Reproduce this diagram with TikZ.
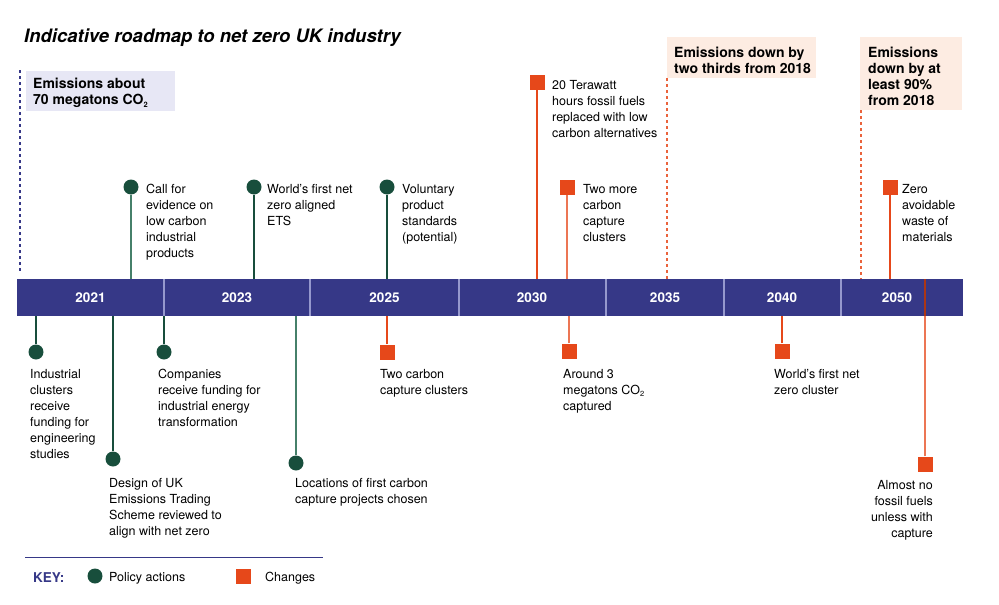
\documentclass[tikz,border=0pt]{standalone}
\usepackage{fontspec}
\setmainfont{TeX Gyre Heros}
\usetikzlibrary{calc}
\definecolor{barblue}{RGB}{54,56,135}
\definecolor{barsep}{RGB}{150,152,205}
\definecolor{pgreen}{RGB}{24,78,60}
\definecolor{pstemgreen}{RGB}{70,128,106}
\definecolor{corange}{RGB}{230,72,26}
\definecolor{cstemorange}{RGB}{236,118,84}
\definecolor{lavender}{RGB}{231,231,245}
\definecolor{peach}{RGB}{253,236,226}
\newcommand\lblfont{\fontsize{12.5}{16}\selectfont}
\newcommand\boxfont{\fontsize{14}{16}\selectfont\bfseries}
\newcommand\cotwo{CO\raisebox{-0.35ex}{\fontsize{7.5}{8}\selectfont 2}}
\tikzset{
  policy/.style={circle, fill=pgreen, inner sep=0, minimum size=15},
  change/.style={rectangle, fill=corange, inner sep=0, minimum size=15},
  pstem/.style={draw=pstemgreen, line width=1.5},
  cstem/.style={draw=cstemorange, line width=1.5},
  lbl/.style={anchor=north west, inner sep=0, align=left, font=\lblfont},
  yearlbl/.style={inner sep=0, text=white, font=\fontsize{13.5}{16}\selectfont\bfseries},
  goalbox/.style={anchor=north west, inner sep=0, align=left, font=\boxfont},
  goaldash/.style={dash pattern=on 3 off 3, line width=1.2}
}
\begin{document}
\begin{tikzpicture}[x=1pt,y=-1pt]
			%%%%% START %%%%%
			\useasboundingbox (0,0) rectangle (999,605);
			
			\node[anchor=base west, inner sep=0, font=\fontsize{18.5}{20}\selectfont\bfseries\itshape] (title) at (24,42) {Indicative roadmap to net zero UK industry};
			
			% emissions milestones
			\draw[goaldash, draw=barblue] (20,70) -- (20,273);
			\fill[lavender] (26,71) rectangle (175,111);
			\node[goalbox] (now) at (33,78) {Emissions about\\70 megatons \cotwo};
			
			\draw[goaldash, draw=corange!85] (667,78) -- (667,279);
			\fill[peach] (667,37) rectangle (816,78);
			\node[goalbox] (twothirds) at (674,46.5) {Emissions down by\\two thirds from 2018};
			
			\draw[goaldash, draw=corange!85] (861,110) -- (861,279);
			\fill[peach] (860,37) rectangle (962,110);
			\node[goalbox] (ninety) at (868,46.5) {Emissions\\down by at\\least 90\%\\from 2018};
			
			% timeline bar
			\fill[barblue] (17,279) rectangle (963,316);
			\coordinate (bartop) at (0,279);
			\coordinate (barbot) at (0,316);
			\foreach \x in {164,310,459,606,724,841}
				\draw[barsep, line width=1.2] (\x,279) -- (\x,316);
			\foreach \x/\yr in {90.5/2021,237/2023,384.5/2025,532/2030,665/2035,782/2040,897/2050}
				\node[yearlbl] (y\yr) at (\x,297.5) {\yr};
			
			% policy actions
			\node[policy] (callev) at (131,187) {};
			\node[policy] (wets) at (254,187) {};
			\node[policy] (vps) at (387,187) {};
			\node[policy] (indcl) at (36,352) {};
			\node[policy] (ukets) at (113,459) {};
			\node[policy] (compf) at (164,352) {};
			\node[policy] (ccloc) at (296,463) {};
			
			\draw[pstem] (callev) -- (callev |- bartop);
			\draw[pstem, draw=pgreen] (wets) -- (wets |- bartop);
			\draw[pstem, draw=pgreen] (vps) -- (vps |- bartop);
			\draw[pstem, draw=pgreen] (indcl) -- (indcl |- barbot);
			\draw[pstem, draw=pgreen] (ukets) -- (ukets |- barbot);
			\draw[pstem, draw=pgreen] (compf) -- (compf |- barbot);
			\draw[pstem] (ccloc) -- (ccloc |- barbot);
			
			\node[lbl] (callevt) at (146,184) {Call for\\evidence on\\low carbon\\industrial\\products};
			\node[lbl] (wetst) at (267,184) {World’s first net\\zero aligned\\ETS};
			\node[lbl] (vpst) at (402,184) {Voluntary\\product\\standards\\(potential)};
			\node[lbl] (indclt) at (30,369) {Industrial\\clusters\\receive\\funding for\\engineering\\studies};
			\node[lbl] (compft) at (158,369) {Companies\\receive funding for\\industrial energy\\transformation};
			\node[lbl] (uketst) at (109,478) {Design of UK\\Emissions Trading\\Scheme reviewed to\\align with net zero};
			\node[lbl] (cclocst) at (295,478) {Locations of first carbon\\capture projects chosen};
			
			% changes
			\node[change] (twtt) at (537,82) {};
			\node[change] (twomore) at (567,187) {};
			\node[change] (zwaste) at (890,187) {};
			\node[change] (twocc) at (387,352) {};
			\node[change] (around3) at (569,351) {};
			\node[change] (wnzc) at (782,351) {};
			\node[change] (nofossil) at (925,464) {};
			
			\draw[cstem, draw=corange] (twtt) -- (twtt |- bartop);
			\draw[cstem] (twomore) -- (twomore |- bartop);
			\draw[cstem, draw=corange] (zwaste) -- (zwaste |- bartop);
			\draw[cstem, draw=corange] (twocc) -- (twocc |- barbot);
			\draw[cstem] (around3) -- (around3 |- barbot);
			\draw[cstem, draw=corange] (wnzc) -- (wnzc |- barbot);
			\draw[cstem] (nofossil) -- (nofossil |- barbot);
			\draw[line width=1.5, draw=corange!75!black] (nofossil |- barbot) -- (nofossil |- bartop);
			
			\node[lbl] (twttt) at (552,80) {20 Terawatt\\hours fossil fuels\\replaced with low\\carbon alternatives};
			\node[lbl] (twomoret) at (583,184) {Two more\\carbon\\capture\\clusters};
			\node[lbl] (zwastet) at (902,184) {Zero\\avoidable\\waste of\\materials};
			\node[lbl] (twocct) at (380,369) {Two carbon\\capture clusters};
			\node[lbl] (around3t) at (563,369) {Around 3\\megatons \cotwo\\captured};
			\node[lbl] (wnzct) at (774,369) {World’s first net\\zero cluster};
			\node[lbl, anchor=north east, align=right] (nofossilt) at (933,480) {Almost no\\fossil fuels\\unless with\\capture};
			
			% key
			\draw[barblue, line width=1] (25,557.5) -- (323,557.5);
			\node[anchor=base west, inner sep=0, text=barblue, font=\fontsize{13.5}{16}\selectfont\bfseries] (key) at (33,582) {KEY:};
			\node[policy] (keyp) at (95,576) {};
			\node[lbl, anchor=base west] (keypt) at (109,581) {Policy actions};
			\node[change] (keyc) at (243,576) {};
			\node[lbl, anchor=base west] (keyct) at (265,581) {Changes};
			
			%%%%% END %%%%%
\end{tikzpicture}
\end{document}
